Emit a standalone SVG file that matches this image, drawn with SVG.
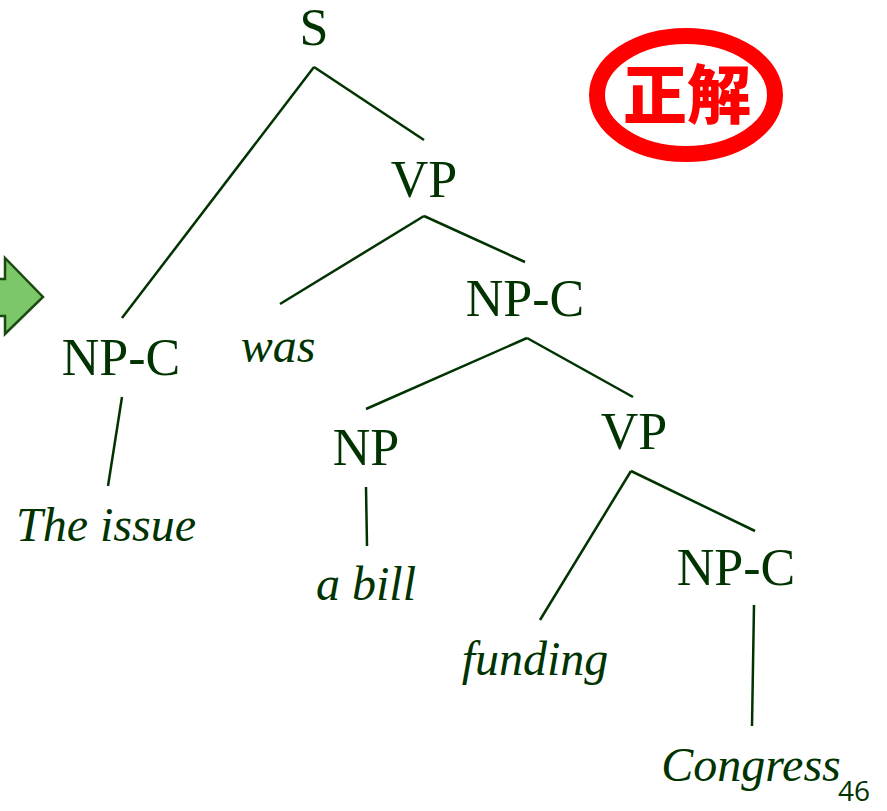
<svg xmlns="http://www.w3.org/2000/svg" width="887" height="811" viewBox="0 0 887 811">
  <style>
    .cat { font-family: 'Liberation Serif', 'DejaVu Serif', serif; font-size: 52px; fill: #003300; text-anchor: middle; }
    .word { font-family: 'Liberation Serif', 'DejaVu Serif', serif; font-size: 48px; font-style: italic; fill: #003300; text-anchor: middle; }
    .edge { stroke: #003300; stroke-width: 2.5; fill: none; stroke-linecap: butt; }
  </style>
  <rect width="887" height="811" fill="#ffffff"/>

  <!-- tree edges -->
  <g id="connectors">
    <line class="edge" x1="314" y1="67" x2="122" y2="318"/>
    <line class="edge" x1="314" y1="67" x2="424" y2="140"/>
    <line class="edge" x1="424" y1="216" x2="280" y2="304"/>
    <line class="edge" x1="424" y1="216" x2="525" y2="262"/>
    <line class="edge" x1="122" y1="397" x2="108" y2="486"/>
    <line class="edge" x1="527" y1="338" x2="366" y2="409"/>
    <line class="edge" x1="527" y1="338" x2="633" y2="397"/>
    <line class="edge" x1="366" y1="487" x2="367" y2="546"/>
    <line class="edge" x1="631" y1="471" x2="540" y2="620"/>
    <line class="edge" x1="631" y1="471" x2="755" y2="531"/>
    <line class="edge" x1="754" y1="605" x2="752" y2="726"/>
  </g>

  <!-- constituent nodes -->
  <g id="node-s"><text class="cat" x="314" y="45">S</text></g>
  <g id="node-vp1"><text class="cat" x="424" y="197">VP</text></g>
  <g id="node-npc1"><text class="cat" x="121" y="375">NP-C</text></g>
  <g id="node-was"><text class="word" x="278" y="362">was</text></g>
  <g id="node-npc2"><text class="cat" x="525" y="316">NP-C</text></g>
  <g id="node-the-issue"><text class="word" x="106" y="541">The issue</text></g>
  <g id="node-np"><text class="cat" x="366" y="465">NP</text></g>
  <g id="node-vp2"><text class="cat" x="634" y="449">VP</text></g>
  <g id="node-a-bill"><text class="word" x="366" y="600">a bill</text></g>
  <g id="node-npc3"><text class="cat" x="736" y="585">NP-C</text></g>
  <g id="node-funding"><text class="word" x="535" y="675">funding</text></g>
  <g id="node-congress"><text class="word" x="751" y="781">Congress</text></g>

  <!-- pointer arrow at the left edge -->
  <g id="arrow">
    <polygon points="-10,279 5,279 5,258 43,297 5,334 5,316 -10,316" fill="#7cc767" stroke="#1a4a12" stroke-width="2.5" stroke-linejoin="miter"/>
  </g>

  <!-- "correct answer" stamp -->
  <g id="badge">
    <ellipse cx="686" cy="95" rx="89" ry="59" fill="#ffffff" stroke="#ff0000" stroke-width="16"/>
    <text x="687" y="118" font-family="'Noto Sans CJK JP', 'Noto Sans CJK SC', sans-serif" font-size="64" font-weight="900" fill="#ff0000" text-anchor="middle">正解</text>
  </g>

  <!-- page number -->
  <g id="page-number">
    <text x="854" y="801" font-family="'Open Sans', 'DejaVu Sans', sans-serif" font-size="28" fill="#003300" text-anchor="middle">46</text>
  </g>
</svg>
